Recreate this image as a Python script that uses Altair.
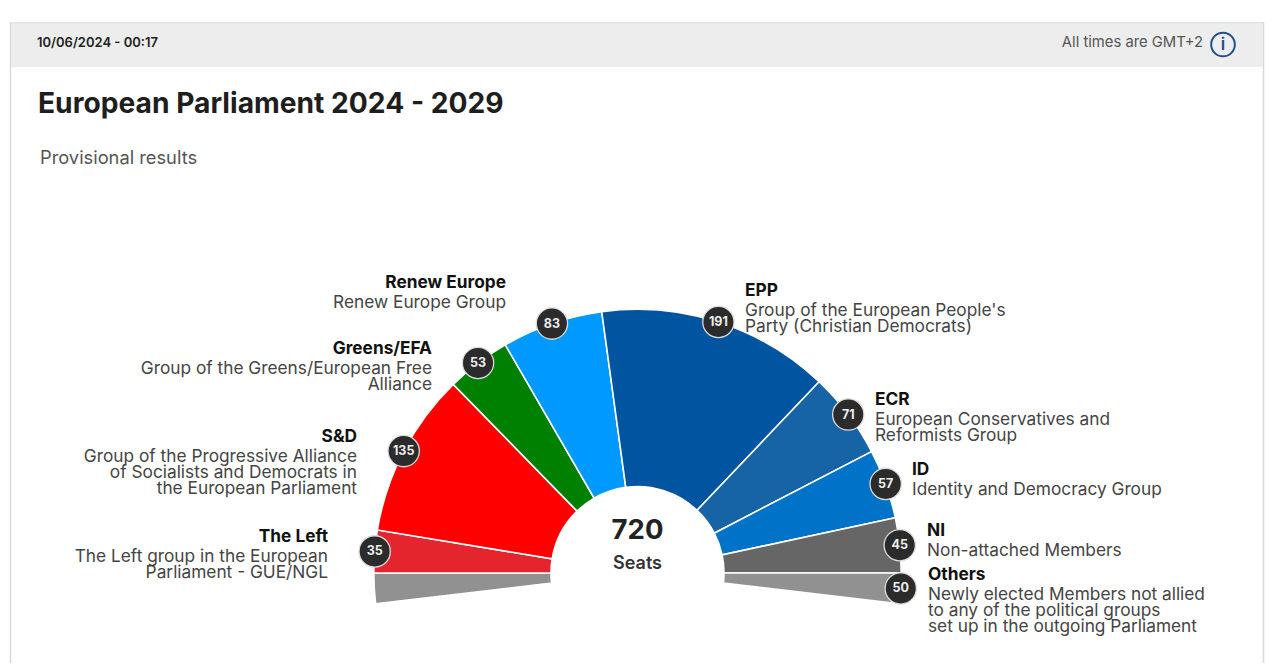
import math
import altair as alt
import pandas as pd

# ---- data -------------------------------------------------------------
groups = ["Others", "The Left", "S&D", "Greens/EFA", "Renew Europe", "EPP", "ECR", "ID", "NI", "Others"]
seats_drawn = [25, 35, 135, 53, 83, 191, 71, 57, 45, 25]   # Others' 50 seats split across both ends
seats_shown = [None, 35, 135, 53, 83, 191, 71, 57, 45, 50]
colors = ["#919191", "#e4252d", "#ff0000", "#008000", "#0099ff", "#0054a0", "#1664a6", "#0073c8", "#666666", "#919191"]

total_seats = 720
title = "European Parliament 2024 - 2029"
subtitle = "Provisional results"
timestamp = "10/06/2024 - 00:17"
timezone = "All times are GMT+2"

# bold heading + description lines for each group
left_labels = [
    ["Renew Europe", "Renew Europe Group"],
    ["Greens/EFA", "Group of the Greens/European Free", "Alliance"],
    ["S&D", "Group of the Progressive Alliance", "of Socialists and Democrats in", "the European Parliament"],
    ["The Left", "The Left group in the European", "Parliament - GUE/NGL"],
]
right_labels = [
    ["EPP", "Group of the European People's", "Party (Christian Democrats)"],
    ["ECR", "European Conservatives and", "Reformists Group"],
    ["ID", "Identity and Democracy Group"],
    ["NI", "Non-attached Members"],
    ["Others", "Newly elected Members not allied", "to any of the political groups", "set up in the outgoing Parliament"],
]

# ---- layout (page pixels) ---------------------------------------------
W, H = 1264, 655
CX, CY, R_OUT, R_IN = 637.5, 573, 263.7, 86.5
HALF_SWEEP = math.pi / 2 * total_seats / (total_seats - 50)
left_anchor = [(506, 283), (432, 349), (357, 437), (328, 537)]
right_anchor = [(745, 291), (875, 400), (912, 470), (927, 531), (928, 575)]

xs = alt.Scale(domain=[8, 8 + W], range=[0, W])
ys = alt.Scale(domain=[8, 8 + H], range=[0, H])
FONT = "Inter"

# ---- tables -----------------------------------------------------------
rows, cum = [], 0
for g, drawn, shown, c in zip(groups, seats_drawn, seats_shown, colors):
    mid = -HALF_SWEEP + (cum + drawn / 2) / total_seats * 2 * HALF_SWEEP
    rows.append({"group": g, "start": cum, "end": cum + drawn, "color": c,
                 "shown": shown,
                 "bx": CX + R_OUT * math.sin(mid), "by": CY - R_OUT * math.cos(mid)})
    cum += drawn
seats = pd.DataFrame(rows)
badges = seats.dropna(subset=["shown"]).copy()
badges["shown"] = badges["shown"].astype(int).astype(str)


def text_layer(items, align="left", size=17.3, weight="normal", color="#444444"):
    df = pd.DataFrame(items, columns=["x", "y", "t"])
    return alt.Chart(df).mark_text(align=align, baseline="middle", fontSize=size, fontWeight=weight,
                                   font=FONT, color=color).encode(
        x=alt.X("x:Q", scale=xs, axis=None), y=alt.Y("y:Q", scale=ys, axis=None), text="t:N")


def label_rows(labels, anchors):
    heads, bodies = [], []
    for lines, (x, y) in zip(labels, anchors):
        heads.append((x, y, lines[0]))
        for i, line in enumerate(lines[1:]):
            bodies.append((x, y + 19.5 + 16 * i, line))
    return heads, bodies


lh, lb = label_rows(left_labels, left_anchor)
rh, rb = label_rows(right_labels, right_anchor)

# ---- panel ------------------------------------------------------------
panel = alt.Chart(pd.DataFrame({"x": [10.5], "x2": [1263.5], "y": [23], "y2": [700]})).mark_rect(
    fill="#ffffff", stroke="#d9d9d9", strokeWidth=1.5).encode(
    x=alt.X("x:Q", scale=xs, axis=None), x2="x2:Q", y=alt.Y("y:Q", scale=ys, axis=None), y2="y2:Q")
header = alt.Chart(pd.DataFrame({"x": [11], "x2": [1263], "y": [23.5], "y2": [67]})).mark_rect(
    fill="#ededed").encode(
    x=alt.X("x:Q", scale=xs, axis=None), x2="x2:Q", y=alt.Y("y:Q", scale=ys, axis=None), y2="y2:Q")

# ---- hemicycle --------------------------------------------------------
arcs = alt.Chart(seats).mark_arc(radius=R_OUT, radius2=R_IN, stroke="#ffffff", strokeWidth=1.6).encode(
    theta=alt.Theta("start:Q", scale=alt.Scale(domain=[0, total_seats], range=[-HALF_SWEEP, HALF_SWEEP])),
    theta2="end:Q",
    color=alt.Color("color:N", scale=None),
    x=alt.value(CX - 8), y=alt.value(CY - 8),
)
badge_c = alt.Chart(badges).mark_circle(size=980, color="#2b2b2b", opacity=1, stroke="#dcdcdc", strokeWidth=1.3).encode(
    x=alt.X("bx:Q", scale=xs, axis=None), y=alt.Y("by:Q", scale=ys, axis=None))
badge_t = alt.Chart(badges).mark_text(fontSize=12.5, fontWeight="bold", font=FONT, color="#eeeeee", baseline="middle").encode(
    x=alt.X("bx:Q", scale=xs, axis=None), y=alt.Y("by:Q", scale=ys, axis=None), text="shown:N")

info_c = alt.Chart(pd.DataFrame({"x": [1223], "y": [44.5]})).mark_point(
    shape="circle", size=560, filled=False, color="#1f4e8c", strokeWidth=2, opacity=1).encode(
    x=alt.X("x:Q", scale=xs, axis=None), y=alt.Y("y:Q", scale=ys, axis=None))

chart = alt.layer(
    panel, header, arcs, badge_c, badge_t, info_c,
    text_layer([(1223, 45, "i")], align="center", size=17, weight=600, color="#1f4e8c"),
    text_layer([(37, 42.5, timestamp)], size=13, weight=600, color="#222222"),
    text_layer([(1203, 42.5, timezone)], align="right", size=14.8, color="#555555"),
    text_layer([(38, 105, title)], size=28.2, weight="bold", color="#1e1e1e"),
    text_layer([(40, 159, subtitle)], size=18.3, color="#555555"),
    text_layer([(CX, 530.5, str(total_seats))], align="center", size=27.5, weight="bold", color="#222222"),
    text_layer([(CX, 564, "Seats")], align="center", size=18, weight=600, color="#333333"),
    text_layer(lh, align="right", weight="bold", color="#111111"),
    text_layer(lb, align="right"),
    text_layer(rh, weight="bold", color="#111111"),
    text_layer(rb),
).properties(width=W, height=H, padding=0, background="#ffffff",
             autosize=alt.AutoSizeParams(type="none")).configure_view(stroke=None)

chart.save("out.html", embed_options={"renderer": "svg", "actions": False})
